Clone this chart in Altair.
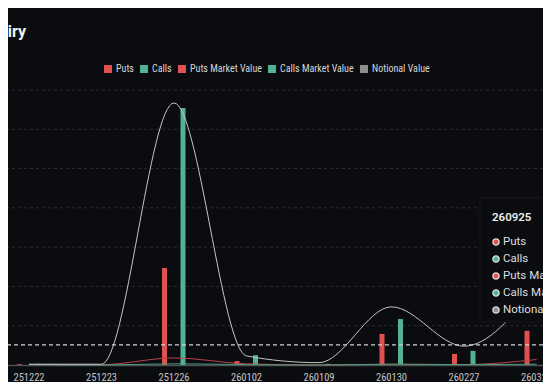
import altair as alt
import pandas as pd

# ---- data (values in gridline units) ----
expiries = ["251222", "251223", "251226", "260102", "260109", "260130", "260227", "260327"]
puts = [0.02, 0.0, 2.47, 0.10, 0.0, 0.79, 0.28, 0.87]
calls = [0.03, 0.0, 6.54, 0.25, 0.03, 1.17, 0.36, 0.92]
puts_mv = [0.01, 0.01, 0.18, 0.03, 0.0, 0.02, 0.01, 0.14]
calls_mv = [0.01, 0.0, 0.03, 0.01, 0.0, 0.02, 0.01, 0.02]
notional = [0.02, 0.02, 6.67, 0.23, 0.06, 1.48, 0.48, 2.0]
grid_values = [1, 2, 3, 4, 5, 6, 7]

series_names = ["Puts", "Calls", "Puts Market Value", "Calls Market Value", "Notional Value"]
legend_colors = ["#e05252", "#52b394", "#e05252", "#52b394", "#8e8e8e"]
line_names = ["Puts Market Value", "Calls Market Value", "Notional Value"]
line_colors = ["#b94444", "#4f9c84", "#c4c4c4"]
pointer_value = [0.51]
tooltip_title = "260925"
tooltip_dots = ["#e05252", "#52b394", "#e05252", "#52b394", "#8e8e8e"]
title_text = "Open Interest by Expiry"

BG = "#0b0c10"
FONT = "Roboto"
NARROW = "'Liberation Sans Narrow', 'Roboto Condensed', 'DejaVu Sans Condensed', Roboto"

bars_df = pd.DataFrame(
    [{"expiry": e, "series": "Puts", "value": v} for e, v in zip(expiries, puts)]
    + [{"expiry": e, "series": "Calls", "value": v} for e, v in zip(expiries, calls)]
)
lines_df = pd.DataFrame(
    [{"expiry": e, "series": "Puts Market Value", "value": v} for e, v in zip(expiries, puts_mv)]
    + [{"expiry": e, "series": "Calls Market Value", "value": v} for e, v in zip(expiries, calls_mv)]
    + [{"expiry": e, "series": "Notional Value", "value": v} for e, v in zip(expiries, notional)]
)

x_scale = alt.Scale(domain=expiries, range=[-15.25, 564.75], paddingInner=0, paddingOuter=0)
y_scale = alt.Scale(domain=[0, 7], nice=False, zero=True)

x_axis = alt.Axis(title=None, labelAngle=0, ticks=False, grid=False,
                  domainColor="#4a524f", domainWidth=1.5,
                  labelColor="#c4c4c4", labelFontSize=10.5, labelPadding=7, labelFont=NARROW)

grid = alt.Chart(pd.DataFrame({"g": grid_values})).mark_rule(
    color="#2e2f34", strokeDash=[3, 3], strokeWidth=1
).encode(y=alt.Y("g:Q", scale=y_scale, axis=None))

bars = alt.Chart(bars_df).mark_bar(size=5).encode(
    x=alt.X("expiry:N", scale=x_scale, axis=x_axis, sort=expiries),
    xOffset=alt.XOffset("series:N", sort=["Puts", "Calls"],
                        scale=alt.Scale(domain=["Puts", "Calls"], range=[17.5, 54.5],
                                        paddingInner=0, paddingOuter=0)),
    y=alt.Y("value:Q", scale=y_scale, axis=None),
    color=alt.Color("series:N",
                    scale=alt.Scale(domain=series_names, range=legend_colors),
                    legend=alt.Legend(orient="none", legendX=95, legendY=-26,
                                      direction="horizontal", title=None,
                                      symbolType="square", symbolSize=64,
                                      symbolStrokeWidth=0,
                                      labelColor="#d6d6d6", labelFontSize=10,
                                      labelFont=NARROW,
                                      columnPadding=5, labelOffset=3)),
)

lines = alt.Chart(lines_df).mark_line(interpolate="monotone", strokeWidth=1).encode(
    x=alt.X("expiry:N", scale=x_scale, sort=expiries, bandPosition=0.5),
    y=alt.Y("value:Q", scale=y_scale),
    stroke=alt.Stroke("series:N", scale=alt.Scale(domain=line_names, range=line_colors),
                      legend=None),
    detail="series:N",
)

pointer = alt.Chart(pd.DataFrame({"v": pointer_value})).mark_rule(
    color="#d0d0d0", strokeDash=[4, 3], strokeWidth=1.2
).encode(y=alt.Y("v:Q", scale=y_scale))

one = pd.DataFrame({"k": [0]})
box = alt.Chart(one).mark_rect(fill=BG, stroke="#15161b", strokeWidth=1).encode(
    x=alt.value(472), x2=alt.value(560), y=alt.value(108), y2=alt.value(232)
)
tip_title = alt.Chart(pd.DataFrame({"t": [tooltip_title]})).mark_text(
    align="left", baseline="middle", fontSize=11.5, fontWeight=600, color="#ededed", font=FONT
).encode(x=alt.value(484), y=alt.value(128), text="t:N")

tip_layers = []
for i, (name, col) in enumerate(zip(series_names, tooltip_dots)):
    yy = 152 + 17 * i
    tip_layers.append(
        alt.Chart(one).mark_point(shape="circle", filled=True, fill=col, stroke="#dcdcdc",
                                  strokeWidth=1.4, size=38, opacity=1)
        .encode(x=alt.value(488), y=alt.value(yy))
    )
    tip_layers.append(
        alt.Chart(pd.DataFrame({"t": [name]})).mark_text(
            align="left", baseline="middle", fontSize=11.5, color="#dedede", font=FONT
        ).encode(x=alt.value(495), y=alt.value(yy), text="t:N")
    )

title = alt.Chart(pd.DataFrame({"t": [title_text]})).mark_text(
    align="right", baseline="middle", fontSize=16, fontWeight="bold", color="#f2f2f2", font=FONT
).encode(x=alt.value(18), y=alt.value(-58), text="t:N")

chart = alt.layer(grid, bars, lines, pointer, box, tip_title, *tip_layers, title).properties(
    width=535, height=275,
    autosize=alt.AutoSizeParams(type="none"),
    padding={"left": 0, "top": 82, "right": 0, "bottom": 17},
    background=BG,
).configure(font=FONT).configure_view(stroke=None)

chart.save("out.html", embed_options={"renderer": "svg", "actions": False})
